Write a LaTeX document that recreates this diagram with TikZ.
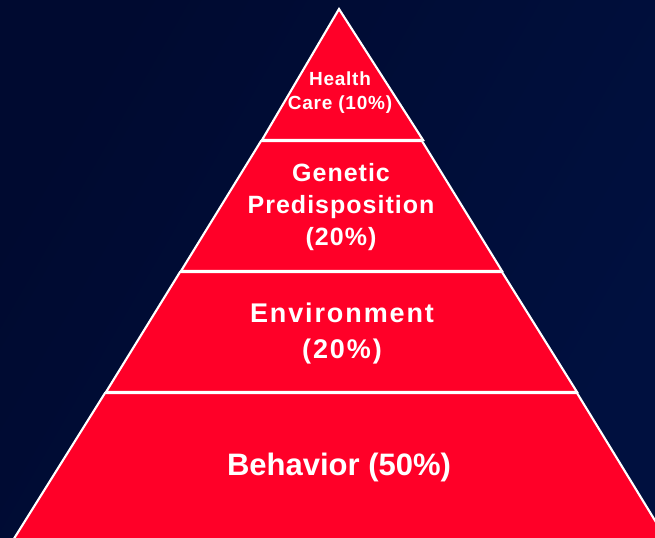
\documentclass[tikz,border=0pt]{standalone}
\usepackage{fontspec}
\setmainfont{Liberation Sans}
\newfontfamily\tierfont[LetterSpace=4]{Liberation Sans}
\newfontfamily\widetierfont[LetterSpace=7]{Liberation Sans}
\definecolor{navyA}{HTML}{000A30}
\definecolor{navyB}{HTML}{00103F}
\definecolor{pyrred}{HTML}{FF0028}
\begin{document}
\begin{tikzpicture}[x=0.75pt,y=-0.75pt,
  tier/.style={fill=pyrred,draw=white,line width=1.6pt,line join=miter},
  lbl/.style={text=white,align=center,inner sep=0pt}]
  % backdrop
  \useasboundingbox (0,0) rectangle (655,537);
  \clip (0,0) rectangle (655,537);
  \shade[left color=navyA,right color=navyB,shading angle=60] (0,0) rectangle (655,537);

  % pyramid tiers, top to bottom
  \draw[tier] (339,9) -- (423,140) -- (262,140) -- cycle;
  \draw[tier] (261,141) -- (422,141) -- (502,271) -- (181,271) -- cycle;
  \draw[tier] (180,272) -- (502,272) -- (577,392) -- (106,392) -- cycle;
  \draw[tier] (105,393) -- (577,393) -- (670,545) -- (10,545) -- cycle;

  % tier labels
  \node[lbl,font=\bfseries\tierfont\fontsize{14.25}{18}\selectfont] (health) at (340,93) {Health\\Care (10\%)};
  \node[lbl,font=\bfseries\tierfont\fontsize{18.75}{24}\selectfont] (genetic) at (341,207) {Genetic\\Predisposition\\(20\%)};
  \node[lbl,font=\bfseries\widetierfont\fontsize{20.25}{26.7}\selectfont] (environment) at (342,333.5) {Environment\\(20\%)};
  \node[lbl,font=\bfseries\fontsize{23.25}{28}\selectfont,anchor=base] (behavior) at (339,475) {Behavior (50\%)};
\end{tikzpicture}
\end{document}
